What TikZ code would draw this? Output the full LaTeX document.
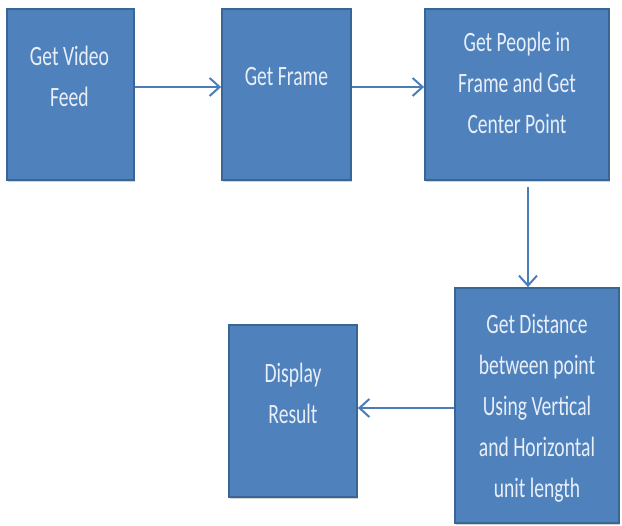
\documentclass[tikz,border=0pt]{standalone}
\usepackage{fontspec}
\setmainfont{Carlito}
\usepackage{graphicx}
\usetikzlibrary{arrows.meta,shadows}

\definecolor{boxfill}{HTML}{4F81BD}
\definecolor{boxedge}{HTML}{3A6696}
\definecolor{boxtext}{HTML}{E8EFF8}
\definecolor{arrowblue}{HTML}{4A7EBB}

% condensed, tall lettering used inside every step
\newcommand{\steptext}[1]{\scalebox{0.7}[1]{\fontsize{28}{41}\selectfont\begin{tabular}{@{}c@{}}#1\end{tabular}}}

\begin{document}
\begin{tikzpicture}[x=1pt,y=-1pt,
  stepbox/.style={draw=boxedge, line width=1.8pt, fill=boxfill, inner sep=0pt,
    drop shadow={opacity=0.35, shadow xshift=0.8pt, shadow yshift=-2pt}},
  steplabel/.style={text=boxtext, inner sep=0pt},
  flow/.style={draw=arrowblue, line width=2pt,
    -{Straight Barb[length=10pt,width=18pt,line width=2pt]}}]

\useasboundingbox[fill=white] (0,0) rectangle (622,526);

% step boxes
\node[stepbox, minimum width=127pt, minimum height=171pt] (feed)   at (70.5,94.5) {};
\node[stepbox, minimum width=129pt, minimum height=171pt] (frame)  at (286.5,94.5) {};
\node[stepbox, minimum width=184pt, minimum height=171pt] (people) at (517,94.5) {};
\node[stepbox, minimum width=164pt, minimum height=235pt] (dist)   at (537,405.5) {};
\node[stepbox, minimum width=128pt, minimum height=172pt] (result) at (293,411) {};

% step labels
\node[steplabel] (feedtxt)   at (69.5,78)  {\steptext{Get Video\\Feed}};
\node[steplabel] (frametxt)  at (286.5,77) {\steptext{Get Frame}};
\node[steplabel] (peopletxt) at (517,84)   {\steptext{Get People in\\Frame and Get\\Center Point}};
\node[steplabel] (disttxt)   at (537,407)  {\steptext{Get Distance\\between point\\Using Vertical\\and Horizontal\\unit length}};
\node[steplabel] (resulttxt) at (293,394.5){\steptext{Display\\Result}};

% connectors
\coordinate (rowA) at (0,87);
\coordinate (dropX) at (528,187);
\coordinate (rowB) at (0,408);

\draw[flow] (feed.east |- rowA) -- (frame.west |- rowA);
\draw[flow] (frame.east |- rowA) -- (people.west |- rowA);
\draw[flow] (dropX) -- (dropX |- dist.north);
\draw[flow] (dist.west |- rowB) -- (result.east |- rowB);

\end{tikzpicture}
\end{document}
